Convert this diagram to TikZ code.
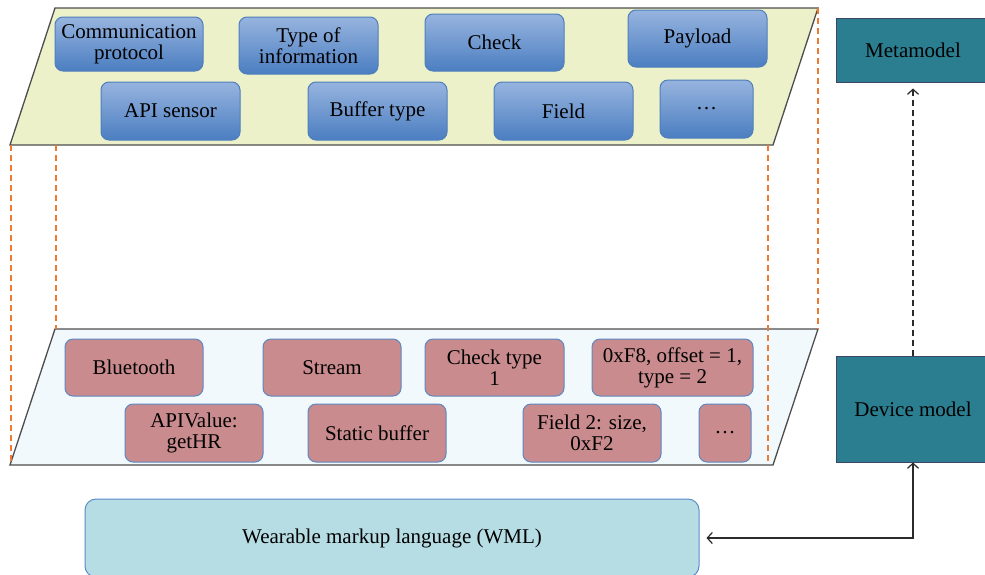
\documentclass[tikz,border=0pt]{standalone}
\usepackage{fontspec}
\setmainfont{Liberation Serif}
\usetikzlibrary{arrows.meta}

\definecolor{layerTop}{HTML}{ECF1C9}
\definecolor{layerBot}{HTML}{F1F9FC}
\definecolor{layerEdge}{HTML}{4D4D4D}
\definecolor{blueTop}{HTML}{97B4DF}
\definecolor{blueBot}{HTML}{4B7EC1}
\definecolor{blueEdge}{HTML}{4F7EBD}
\definecolor{pinkFill}{HTML}{C98B8D}
\definecolor{pinkEdge}{HTML}{5D88C2}
\definecolor{tealFill}{HTML}{2A7E8F}
\definecolor{tealEdge}{HTML}{3E4568}
\definecolor{wmlFill}{HTML}{B6DCE4}
\definecolor{wmlEdge}{HTML}{5B8CC8}
\definecolor{guideCol}{HTML}{F07A32}
\definecolor{linkCol}{HTML}{2B2B2B}

\tikzset{
  base/.style={rounded corners=8pt, align=center, inner sep=0pt, text=black,
    font=\fontsize{21}{21}\selectfont},
  metabox/.style={base, draw=blueEdge, line width=1pt, top color=blueTop, bottom color=blueBot},
  devbox/.style={base, draw=pinkEdge, fill=pinkFill, line width=1pt},
  modelbox/.style={draw=tealEdge, fill=tealFill, line width=1pt, inner sep=0pt,
    font=\fontsize{21}{21}\selectfont},
  wmlbox/.style={base, rounded corners=11pt, draw=wmlEdge, fill=wmlFill, line width=1pt},
  layer/.style={draw=layerEdge, line width=1.3pt},
  guide/.style={draw=guideCol, dash pattern=on 6pt off 4pt, line width=1.2pt},
  barb/.tip={Straight Barb[length=5pt, width=11pt, line width=1.2pt]},
  link/.style={draw=linkCol, line width=1.1pt}
}

\begin{document}
\begin{tikzpicture}[x=1pt, y=-1pt]
  \useasboundingbox (0,0) rectangle (985,574);
  \clip (0,0) rectangle (985,574);

  % the two layers
  \path[layer, fill=layerTop] (55,8) -- (818,8) -- (773,145) -- (10,145) -- cycle;
  \path[layer, fill=layerBot] (55,329) -- (818,329) -- (773,465) -- (10,465) -- cycle;

  % projection guides between the layers
  \draw[guide] (11,145) -- (11,465);
  \draw[guide] (56,145) -- (56,329);
  \draw[guide] (818,8) -- (818,329);
  \draw[guide] (768,145) -- (768,465);

  % metamodel concepts
  \node[metabox, minimum width=148pt, minimum height=54pt] (comm) at (129,44) {Communication\\protocol};
  \node[metabox, minimum width=139pt, minimum height=57pt] (typeinfo) at (308.5,45.5) {Type of\\information};
  \node[metabox, minimum width=139pt, minimum height=57pt] (check) at (494.5,42.5) {Check};
  \node[metabox, minimum width=139pt, minimum height=57pt] (payload) at (697.5,38.5) {Payload};
  \node[metabox, minimum width=139pt, minimum height=58pt] (apisensor) at (170.5,111) {API sensor};
  \node[metabox, minimum width=139pt, minimum height=58pt] (buffer) at (377.5,111) {Buffer type};
  \node[metabox, minimum width=139pt, minimum height=58pt] (field) at (563.5,111) {Field};
  \node[metabox, minimum width=93pt, minimum height=58pt] (moretop) at (706.5,109) {\ldots};

  % device instances
  \node[devbox, minimum width=138pt, minimum height=57pt] (bt) at (134,367.5) {Bluetooth};
  \node[devbox, minimum width=138pt, minimum height=57pt] (stream) at (332,367.5) {Stream};
  \node[devbox, minimum width=139pt, minimum height=57pt] (checktype) at (494.5,367.5) {Check type\\1};
  \node[devbox, minimum width=161pt, minimum height=57pt] (hex) at (672.5,367.5) {0xF8, offset = 1,\\type = 2};
  \node[devbox, minimum width=138pt, minimum height=58pt] (apival) at (194,433) {APIValue:\\getHR};
  \node[devbox, minimum width=138pt, minimum height=58pt] (static) at (377,433) {Static buffer};
  \node[devbox, minimum width=138pt, minimum height=58pt] (field2) at (592,433) {Field 2: size,\\0xF2};
  \node[devbox, minimum width=52pt, minimum height=58pt] (morebot) at (725,433) {\ldots};

  % models and language
  \node[modelbox, minimum width=154pt, minimum height=64pt] (meta) at (913,50) {Metamodel};
  \node[modelbox, minimum width=154pt, minimum height=106pt] (dev) at (913,409) {Device model};
  \node[wmlbox, minimum width=614pt, minimum height=78pt] (wml) at (392,538) {Wearable markup language (WML)};

  % relations
  \draw[link, dash pattern=on 6pt off 4pt, -{barb}] (dev.north) -- ([yshift=-6pt]meta.south);
  \draw[link, {barb}-{barb}] ([xshift=7pt]wml.east) -| (dev.south);
\end{tikzpicture}
\end{document}
